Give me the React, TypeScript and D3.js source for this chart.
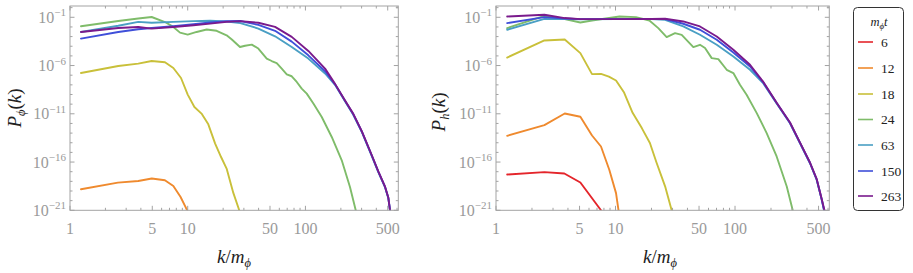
import React from 'react';
import * as d3 from 'd3';

// Legend labels (m_phi t) and colours
const times = ['6', '12', '18', '24', '63', '150', '263'];
const colors = ['#e4252b', '#ef8a2e', '#c9c03a', '#7fbc6a', '#4a9fc4', '#3f4fd9', '#7a1a8c'];

// Axis ticks
const xMajor = [1, 5, 10, 50, 100, 500];
const xMinor = [2, 3, 4, 6, 7, 8, 9, 20, 30, 40, 60, 70, 80, 90, 200, 300, 400, 600];
const yLabelExp = [-21, -16, -11, -6, -1];
const yTickExp = d3.range(-21, 1);

// ---------- Left panel: P_phi(k)  (k, log10 P) ----------
const phiK12 = [1.24, 2.55, 3.8, 4.95, 6.4, 7.55, 8.7, 9.9, 10.6];
const phiL12 = [-18.82, -18.13, -17.96, -17.71, -17.89, -18.48, -19.62, -21.0, -22.2];

const phiK18 = [1.24, 2.57, 3.8, 4.94, 6.41, 7.55, 8.77, 10.0, 11.4, 13.1, 14.96, 17.1, 19.2, 21.4, 24.4, 27.4, 28.5];
const phiL18 = [-6.77, -6.05, -5.8, -5.53, -5.66, -6.25, -7.29, -9.01, -10.3, -10.98, -12.09, -14.09, -15.48, -16.68, -19.2, -21.0, -21.6];

const phiK24 = [1.24, 2.57, 3.8, 4.94, 6.41, 7.55, 8.6, 10.0, 11.9, 14.5, 17.6, 21.4, 23.7, 27.8, 30.7, 35.0, 39.8, 46.9, 51.7, 57.0, 62.9, 69.4, 76.5, 84.4, 93.0, 102.6, 116.8, 137.6, 167.3, 203.4, 239, 267.5, 280];
const phiL24 = [-1.93, -1.38, -1.13, -0.97, -1.49, -2.0, -2.59, -2.79, -2.52, -2.27, -2.4, -2.87, -3.3, -4.08, -3.95, -3.83, -4.24, -5.28, -5.53, -5.74, -6.32, -6.91, -7.11, -7.7, -8.39, -8.91, -9.94, -11.33, -13.4, -15.82, -18.58, -21.0, -22.0];

const phiK63 = [1.24, 2.57, 3.8, 4.94, 7.55, 11.2, 15.5, 21.4, 28, 39.8, 55.2, 76.5, 105.8, 146.8, 178.4, 216.9, 255, 301, 365.6, 416, 474.6, 506, 523, 540];
const phiL63 = [-2.52, -1.88, -1.47, -1.57, -1.47, -1.4, -1.36, -1.43, -1.6, -2.17, -2.97, -4.08, -5.28, -6.82, -8.0, -9.7, -11.1, -12.87, -15.35, -17.05, -18.62, -19.75, -21.0, -22.0];

const phiK150 = [1.24, 2.57, 3.8, 4.94, 7.55, 11.2, 15.5, 21.4, 28, 39.8, 55.2, 76.5, 105.8, 146.8, 178.4, 216.9, 255, 301, 365.6, 416, 474.6, 506, 523, 540];
const phiL150 = [-3.21, -2.52, -2.24, -2.11, -1.93, -1.72, -1.54, -1.41, -1.38, -1.79, -2.4, -3.52, -4.94, -6.59, -7.95, -9.66, -11.05, -12.83, -15.3, -17.0, -18.58, -19.7, -21.0, -22.0];

const phiK263 = [1.24, 2.57, 3.8, 4.94, 7.55, 11.2, 15.5, 21.4, 28, 39.8, 55.2, 76.5, 105.8, 146.8, 178.4, 216.9, 255, 301, 365.6, 416, 474.6, 506, 523, 540];
const phiL263 = [-2.52, -2.11, -2.0, -2.17, -2.0, -1.83, -1.66, -1.47, -1.4, -1.57, -1.99, -3.03, -4.49, -6.32, -7.9, -9.62, -11.0, -12.8, -15.27, -16.97, -18.55, -19.68, -21.0, -22.0];

// ---------- Right panel: P_h(k)  (k, log10 P) ----------
const hK6 = [1.24, 2.54, 3.73, 5.08, 7.56, 8.2];
const hL6 = [-17.29, -17.04, -17.19, -18.12, -21.0, -21.8];

const hK12 = [1.24, 2.54, 3.76, 5.08, 6.36, 7.56, 8.87, 10.1, 10.6, 11.0];
const hL12 = [-13.28, -12.17, -10.97, -11.31, -13.25, -14.39, -16.8, -19.22, -21.0, -22.0];

const hK18 = [1.24, 2.54, 3.76, 5.08, 6.36, 7.56, 8.8, 10.1, 11.8, 13.9, 16.6, 19.4, 22.1, 26.0, 29.5, 31];
const hL18 = [-5.17, -3.4, -3.3, -4.71, -6.89, -6.86, -7.15, -7.55, -8.8, -10.9, -12.48, -14.03, -16.1, -18.52, -21.0, -22.0];

const hK24 = [1.24, 2.54, 3.76, 5.08, 6.36, 10.8, 14.8, 19.2, 22.8, 26.8, 31.5, 35.8, 44.8, 50.9, 56.1, 63.8, 72.5, 85.2, 96.8, 110, 125, 152, 184, 223, 271, 304, 320];
const hL24 = [-2.12, -0.86, -1.19, -1.54, -1.33, -0.92, -0.98, -1.33, -2.12, -3.05, -2.64, -2.82, -4.09, -3.85, -4.19, -5.23, -5.33, -6.44, -6.78, -7.99, -9.03, -10.93, -13.0, -15.42, -18.53, -21.0, -22.0];

const hK63 = [1.24, 2.54, 3.76, 5.08, 10, 20, 26, 36.9, 50.9, 70.3, 96.8, 133.5, 172.6, 223, 288.6, 350, 424, 483, 532, 556, 580];
const hL63 = [-2.29, -1.16, -1.19, -1.22, -1.19, -1.19, -1.26, -1.95, -2.81, -3.85, -5.06, -6.44, -7.85, -9.92, -11.98, -14.05, -16.12, -17.86, -19.92, -21.0, -22.0];

const hK150 = [1.24, 2.54, 3.76, 5.08, 10, 20, 26, 36.9, 50.9, 70.3, 96.8, 133.5, 172.6, 223, 288.6, 350, 424, 483, 532, 556, 580];
const hL150 = [-1.6, -0.98, -1.12, -1.19, -1.19, -1.17, -1.19, -1.67, -2.29, -3.33, -4.64, -6.1, -7.77, -9.89, -11.96, -14.03, -16.1, -17.83, -19.9, -21.0, -22.0];

const hK263 = [1.24, 2.54, 3.76, 5.08, 10, 20, 26, 36.9, 50.9, 70.3, 96.8, 133.5, 172.6, 223, 288.6, 350, 424, 483, 532, 560, 585];
const hL263 = [-0.92, -0.74, -1.08, -1.19, -1.19, -1.17, -1.15, -1.43, -1.95, -2.99, -4.37, -5.92, -7.7, -9.85, -11.9, -13.98, -16.05, -17.78, -19.85, -21.0, -22.0];

const phiSeries = [
  { ci: 1, k: phiK12, l: phiL12 },
  { ci: 2, k: phiK18, l: phiL18 },
  { ci: 3, k: phiK24, l: phiL24 },
  { ci: 4, k: phiK63, l: phiL63 },
  { ci: 5, k: phiK150, l: phiL150 },
  { ci: 6, k: phiK263, l: phiL263 },
];
const hSeries = [
  { ci: 0, k: hK6, l: hL6 },
  { ci: 1, k: hK12, l: hL12 },
  { ci: 2, k: hK18, l: hL18 },
  { ci: 3, k: hK24, l: hL24 },
  { ci: 4, k: hK63, l: hL63 },
  { ci: 5, k: hK150, l: hL150 },
  { ci: 6, k: hK263, l: hL263 },
];

const FONT = "'Liberation Serif', 'Times New Roman', serif";
const FRAME = '#a3a3a3';
const TICKTXT = '#9a9a9a';

type PanelProps = {
  id: string;
  x0: number; x1: number; y0: number; y1: number;
  kMax: number; topExp: number;
  series: { ci: number; k: number[]; l: number[] }[];
  sub: string;
  ylabX: number; ylabY: number; xlabX: number;
};

function Panel(p: PanelProps) {
  const x = d3.scaleLog().domain([1, p.kMax]).range([p.x0, p.x1]);
  const y = d3.scaleLog().domain([1e-21, Math.pow(10, p.topExp)]).range([p.y1, p.y0]);
  const mk = (s: { k: number[]; l: number[] }) => {
    const pts = s.k.map((kv, i) => [kv, s.l[i]] as [number, number]);
    return d3.line<[number, number]>()
      .x(d => x(d[0]))
      .y(d => y(Math.pow(10, d[1])))(pts) || '';
  };
  return (
    <g>
      <defs>
        <clipPath id={p.id}>
          <rect x={p.x0} y={p.y0} width={p.x1 - p.x0} height={p.y1 - p.y0} />
        </clipPath>
      </defs>
      <g clipPath={`url(#${p.id})`}>
        {p.series.map((s, i) => (
          <path key={i} d={mk(s)} fill="none" stroke={colors[s.ci]} strokeWidth={1.9}
            strokeLinejoin="round" strokeLinecap="round" />
        ))}
      </g>
      <rect x={p.x0} y={p.y0} width={p.x1 - p.x0} height={p.y1 - p.y0}
        fill="none" stroke={FRAME} strokeWidth={1} />
      {xMajor.map(t => (
        <g key={'M' + t}>
          <line x1={x(t)} x2={x(t)} y1={p.y1} y2={p.y1 - 4.5} stroke={FRAME} />
          <line x1={x(t)} x2={x(t)} y1={p.y0} y2={p.y0 + 4.5} stroke={FRAME} />
          <text x={x(t)} y={p.y1 + 24} textAnchor="middle" fontFamily={FONT} fontSize={16} fill={TICKTXT}>{t}</text>
        </g>
      ))}
      {xMinor.filter(t => t <= p.kMax).map(t => (
        <g key={'m' + t}>
          <line x1={x(t)} x2={x(t)} y1={p.y1} y2={p.y1 - 2.5} stroke={FRAME} />
          <line x1={x(t)} x2={x(t)} y1={p.y0} y2={p.y0 + 2.5} stroke={FRAME} />
        </g>
      ))}
      {yTickExp.map(e => {
        const yy = y(Math.pow(10, e));
        const major = yLabelExp.includes(e);
        const L = major ? 4.5 : 2.5;
        return (
          <g key={'y' + e}>
            <line x1={p.x0} x2={p.x0 + L} y1={yy} y2={yy} stroke={FRAME} />
            <line x1={p.x1} x2={p.x1 - L} y1={yy} y2={yy} stroke={FRAME} />
          </g>
        );
      })}
      {yLabelExp.map(e => {
        const yy = y(Math.pow(10, e));
        return (
          <text key={'yl' + e} x={p.x0 - 4} y={yy + 5.5} textAnchor="end" fontFamily={FONT} fontSize={16} fill={TICKTXT}>
            10<tspan dy={-6.5} fontSize={11}>{'\u2212' + Math.abs(e)}</tspan>
          </text>
        );
      })}
      <text transform={`translate(${p.ylabX},${p.ylabY}) rotate(-90)`} textAnchor="middle"
        fontFamily={FONT} fontSize={19} fill="#222">
        <tspan fontStyle="italic">P</tspan>
        <tspan fontStyle="italic" fontSize={12.5} dy={4}>{p.sub}</tspan>
        <tspan dy={-4}>(</tspan>
        <tspan fontStyle="italic">k</tspan>
        <tspan>)</tspan>
      </text>
      <text x={p.xlabX} y={263} textAnchor="middle" fontFamily={FONT} fontSize={19} fill="#222">
        <tspan fontStyle="italic">k</tspan>
        <tspan>/</tspan>
        <tspan fontStyle="italic">m</tspan>
        <tspan fontStyle="italic" fontSize={12.5} dy={4}>{'\u03d5'}</tspan>
      </text>
    </g>
  );
}

function Legend() {
  const ys = [42, 68, 94, 119.5, 145, 171, 196];
  return (
    <g>
      <rect x={853.5} y={7.5} width={50} height={203} rx={4} fill="white" stroke="#333" strokeWidth={1} />
      <text x={879} y={26} textAnchor="middle" fontFamily={FONT} fontSize={12.5} fill="#222">
        <tspan fontStyle="italic">m</tspan>
        <tspan fontStyle="italic" fontSize={9} dy={3}>{'\u03d5'}</tspan>
        <tspan fontStyle="italic" dy={-3}>t</tspan>
      </text>
      {times.map((t, i) => (
        <g key={t}>
          <line x1={858} x2={873} y1={ys[i]} y2={ys[i]} stroke={colors[i]} strokeWidth={1.6} />
          <text x={881} y={ys[i] + 4.5} fontFamily={FONT} fontSize={13.5} fill="#222">{t}</text>
        </g>
      ))}
    </g>
  );
}

export default function App() {
  return (
    <svg width={913} height={273} style={{ position: 'absolute', left: 0, top: 0, background: 'white' }}>
      <rect x={0} y={0} width={913} height={273} fill="white" />
      <Panel id="clipL" x0={70} x1={398.3} y0={6} y1={210.3} kMax={615} topExp={0.17}
        series={phiSeries} sub={'\u03d5'} ylabX={21} ylabY={108} xlabX={234} />
      <Panel id="clipR" x0={496} x1={829.3} y0={6} y1={210.3} kMax={615} topExp={0.17}
        series={hSeries} sub={'h'} ylabX={445} ylabY={112} xlabX={660} />
      <Legend />
    </svg>
  );
}
